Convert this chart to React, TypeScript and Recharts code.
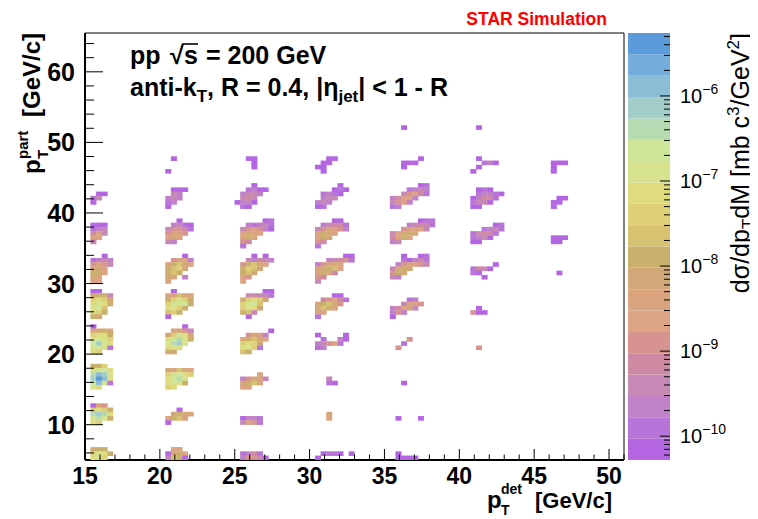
import { ScatterChart, Scatter, XAxis, YAxis, ReferenceArea, BarChart, Bar } from "recharts";

const FONT = '"Liberation Sans", Arial, Helvetica, sans-serif';

// axis ranges (GeV/c)
const X_RANGE = [15, 51];
const Y_RANGE = [5, 65.5];
const X_MAJOR = [15, 20, 25, 30, 35, 40, 45, 50];
const Y_MAJOR = [10, 20, 30, 40, 50, 60];
const X_TICKS = Array.from({ length: 37 }, (_, i) => 15 + i);
const Y_TICKS = Array.from({ length: 30 }, (_, i) => 6 + 2 * i);

// colour scale: log10(dsigma/dpT dM), 20 contour bands
const Z_MIN = -10.28;
const Z_BAND = 0.251;
const Z_MAJOR = [-10, -9, -8, -7, -6];
const PALETTE = [
  "#b365e2", "#b874d8", "#c081c8", "#c689b6", "#cd8aa2",
  "#d69390", "#dca384", "#d9a47e", "#d3a878", "#c9b06c",
  "#d6c270", "#ddd077", "#dfdc80", "#d6e28e", "#cde69a",
  "#b6dab2", "#a2cdc8", "#8cbdd6", "#74acdb", "#5b9bd9",
];

// cell size inside each (pT_det, pT_part) block
const CELL_W = 0.375;
const CELL_H = 0.6;
const LEVELS = "0123456789abcdefghij";

// blocks per pT_det bin: [pT_part bin start, rows (top row first), one char per cell = colour band]
const DET_15: [number, string[]][] = [
  [5, [".899", ".bdc9", ".cdb"]],
  [10, [".075", ".bcb9", ".fgfc", ".dfd9", ".cb"]],
  [15, [".99b", ".cdec", ".fhgd", ".gjhc", ".ehe1", ".dc"]],
  [20, [".0", ".7897", ".bcc9", ".dedb", ".egdc", ".ded1", ".cb"]],
  [25, [".00", ".8993", ".bcb8", ".cdc9", ".dea", ".cb9", ".98"]],
  [30, ["...0", ".1232", ".5753", ".786", ".996", ".87", ".66"]],
  [35, [".000", ".123", ".463", ".76", ".3", ""]],
  [40, ["..00", ".13", ".0", "", ""]],
];
const DET_20: [number, string[]][] = [
  [5, ["..66", ".0897", ".2a90"]],
  [10, ["...0", "..8987", ".79a7", ".0"]],
  [15, [".87a86", ".bdecb", ".cefd", ".cdd9", ".bc"]],
  [20, ["....0", "..7853", ".8bdc8", ".cefd9", ".dfgd", ".cdc", ".98"]],
  [25, ["..0", ".67a87", ".9bdb9", ".bede9", ".cdb9", ".ab9", ".0"]],
  [30, ["....0", "..5762", ".69a86", ".9ab8", ".9a9", ".87.2", ".7"]],
  [35, ["...0", "..2310", ".35541", ".5775", ".687", ".32", ""]],
  [40, ["..000", "..32", ".232", ".12", ".0", ""]],
  [45, ["..0", "", "", ".0", ""]],
];
const DET_25: [number, string[]][] = [
  [5, [".1241", ".25530"]],
  [10, [".0221", ".3651"]],
  [15, ["....7", ".25873", ".79a7", ".76"]],
  [20, ["......0", "..5762", ".79a86", ".bcb8", ".cdb1", ".a9"]],
  [25, [".....00", "..34331", ".8bcb8", ".bdea", ".bdc8", ".9a3", "..0"]],
  [30, ["...0.0", "..32432", ".59a86", ".9ba8", ".9a8", ".65", ".7"]],
  [35, [".....01", "..21231", ".356520", ".7876", ".797", ".54", ".1"]],
  [40, ["...0", "..1200", ".2332", ".343", "0230", ".10", ""]],
  [45, ["..00", "...0", "...0", "", ""]],
];
const DET_30: [number, string[]][] = [
  [5, ["..0110.0", ".0"]],
  [10, ["...8", "...7", ""]],
  [15, ["...3", "...10", ""]],
  [20, [".0....0", "..1..20", ".23561", ".12", ""]],
  [25, ["....00", "..45641", ".79a85", ".8a97", ".76", ".1"]],
  [30, ["......00", "...23451", ".25787", ".789a6", ".7984", ".54", ".3"]],
  [35, ["....00", "..23441", ".357652", ".6987", ".798", ".54", ".1"]],
  [40, [".....0", "....010", "..1210", "..233", ".232", ".01", ""]],
  [45, ["...00", "..00", ".00", "..0", ""]],
];
const DET_35: [number, string[]][] = [
  [5, ["..0", "..0000"]],
  [10, ["..0...0", ""]],
  [15, ["...0", ""]],
  [20, ["....5", "...1", "..5", ""]],
  [25, ["....12", "...3765", ".24683", ".252", ".0"]],
  [30, ["...0..01", "...10231", "..257653", ".3798", ".598", ".32", ""]],
  [35, ["......011", "....23431", "...57763", ".36898", ".4796", ".23", ""]],
  [40, ["......01", "....1232", "...35641", ".24672", ".3562", ".12", ""]],
  [45, ["......0", "...000", "...0", "", ""]],
  [50, ["...0", "", "", ""]],
];
const DET_40: [number, string[]][] = [
  [20, ["...5", ""]],
  [25, ["...0", "..500", ""]],
  [30, ["......0", "..1430", "..10", "....0", ""]],
  [35, ["......01", "....1231", "..13441", "..1230", "..00", ""]],
  [40, ["...010", "...12210", "..02441", "..1330", "..00", ""]],
  [45, ["...0", "....120", "...0", "..0", ""]],
  [50, ["...0", "", "", ""]],
];
const DET_45: [number, string[]][] = [
  [30, ["....0", "", ""]],
  [35, ["...000", "...00", ""]],
  [40, ["....00", "...00", "...0", ""]],
  [45, ["...000", "...0", "...0", ""]],
];
const BLOCKS: [number, [number, string[]][]][] = [
  [15, DET_15], [20, DET_20], [25, DET_25], [30, DET_30],
  [35, DET_35], [40, DET_40], [45, DET_45],
];

type CellPt = { x: number; y: number; z: number };
const cells: CellPt[] = [];
BLOCKS.forEach(([det, list]) =>
  list.forEach(([part, rows]) =>
    rows.forEach((row, i) => {
      const r = rows.length - 1 - i;
      row.split("").forEach((ch, c) => {
        const lev = LEVELS.indexOf(ch);
        if (lev < 0) return;
        cells.push({
          x: det + (c + 0.5) * CELL_W,
          y: part + (r + 0.5) * CELL_H,
          z: Z_MIN + (lev + 0.5) * Z_BAND,
        });
      });
    })
  )
);

const zColor = (z: number) =>
  PALETTE[Math.min(PALETTE.length - 1, Math.max(0, Math.floor((z - Z_MIN) / Z_BAND)))];

// layout (px)
const W = 758;
const H = 519;
const PLOT_L = 85;
const PLOT_R = 624;
const PLOT_T = 33;
const PLOT_B = 460;
const Y_AXIS_W = 60;
const X_AXIS_H = 30;
const CELL_PX_W = (CELL_W * (PLOT_R - PLOT_L)) / (X_RANGE[1] - X_RANGE[0]);
const CELL_PX_H = (CELL_H * (PLOT_B - PLOT_T)) / (Y_RANGE[1] - Y_RANGE[0]);

function CellShape(props: any) {
  const { cx, cy, payload } = props;
  return (
    <rect
      x={cx - CELL_PX_W / 2 - 0.2}
      y={cy - CELL_PX_H / 2 - 0.2}
      width={CELL_PX_W + 0.4}
      height={CELL_PX_H + 0.4}
      fill={zColor(payload.z)}
    />
  );
}

function XTick(props: any) {
  const { x, y, payload } = props;
  const major = X_MAJOR.includes(payload.value);
  return (
    <g>
      <line x1={x} x2={x} y1={y} y2={y - (major ? 11 : 5.5)} stroke="#000" />
      {major && (
        <text x={x} y={y + 24} textAnchor="middle" fontSize={23} fontWeight="bold" fontFamily={FONT} fill="#000">
          {payload.value}
        </text>
      )}
    </g>
  );
}

function YTick(props: any) {
  const { x, y, payload } = props;
  const major = Y_MAJOR.includes(payload.value);
  return (
    <g>
      <line x1={x} x2={x + (major ? 18 : 9)} y1={y} y2={y} stroke="#000" />
      {major && (
        <text x={x - 10} y={y + 9} textAnchor="end" fontSize={25} fontWeight="bold" fontFamily={FONT} fill="#000">
          {payload.value}
        </text>
      )}
    </g>
  );
}

// colour bar
const Z_SPAN = PALETTE.length * Z_BAND;
const BAR_ROW = [{ name: "z", ...Object.fromEntries(PALETTE.map((_, i) => [`b${i}`, Z_BAND])) }];
const Z_TICKS: number[] = [];
for (let d = -11; d <= -6; d++) {
  for (let k = 1; k <= 9; k++) {
    const v = d + Math.log10(k) - Z_MIN;
    if (v >= 0 && v <= Z_SPAN) Z_TICKS.push(v);
  }
}

function ZTick(props: any) {
  const { x, y, payload } = props;
  const L = payload.value + Z_MIN;
  const major = Z_MAJOR.some((m) => Math.abs(m - L) < 1e-6);
  return (
    <g>
      <line x1={x} x2={x - (major ? 10 : 6)} y1={y} y2={y} stroke="#000" />
      {major && (
        <text x={x + 10} y={y + 7} fontSize={20} fontFamily={FONT} fill="#000">
          10
          <tspan dy={-9} fontSize={14}>
            {"\u2212" + Math.round(-L)}
          </tspan>
        </text>
      )}
    </g>
  );
}

export default function App() {
  return (
    <div style={{ position: "relative", left: -8, top: -8, width: W, height: H, background: "#fff", fontFamily: FONT }}>
      <div style={{ position: "absolute", left: 0, top: 0 }}>
        <ScatterChart
          width={W}
          height={H}
          margin={{ top: PLOT_T, right: W - PLOT_R, bottom: H - PLOT_B - X_AXIS_H, left: PLOT_L - Y_AXIS_W }}
        >
          <XAxis
            type="number"
            dataKey="x"
            domain={X_RANGE}
            allowDataOverflow
            ticks={X_TICKS}
            interval={0}
            tickSize={0}
            tickMargin={0}
            tickLine={false}
            tick={<XTick />}
            height={X_AXIS_H}
            axisLine={{ stroke: "#000", strokeWidth: 2 }}
          />
          <YAxis
            type="number"
            dataKey="y"
            domain={Y_RANGE}
            allowDataOverflow
            ticks={Y_TICKS}
            interval={0}
            tickSize={0}
            tickMargin={0}
            tickLine={false}
            tick={<YTick />}
            width={Y_AXIS_W}
            axisLine={{ stroke: "#000", strokeWidth: 2 }}
          />
          <Scatter data={cells} shape={CellShape} isAnimationActive={false} />
          <ReferenceArea
            x1={X_RANGE[0]}
            x2={X_RANGE[1]}
            y1={Y_RANGE[0]}
            y2={Y_RANGE[1]}
            fill="none"
            fillOpacity={0}
            stroke="#000"
            strokeWidth={1}
            ifOverflow="visible"
          />
        </ScatterChart>
      </div>

      <div style={{ position: "absolute", left: 628, top: 0 }}>
        <BarChart
          width={130}
          height={H}
          data={BAR_ROW}
          margin={{ top: PLOT_T, right: 0, bottom: H - PLOT_B, left: 0 }}
          barCategoryGap={0}
          barGap={0}
        >
          <XAxis hide dataKey="name" type="category" />
          <YAxis
            orientation="right"
            type="number"
            domain={[0, Z_SPAN]}
            allowDataOverflow
            ticks={Z_TICKS}
            interval={0}
            tickSize={0}
            tickMargin={0}
            tickLine={false}
            axisLine={false}
            tick={<ZTick />}
            width={88}
          />
          {PALETTE.map((c, i) => (
            <Bar key={i} dataKey={`b${i}`} stackId="z" fill={c} isAnimationActive={false} />
          ))}
        </BarChart>
      </div>

      <svg width={W} height={H} style={{ position: "absolute", left: 0, top: 0, pointerEvents: "none" }} fontFamily={FONT}>
        <text x={607} y={25} textAnchor="end" fontSize={17.5} fontWeight="bold" fill="#ff0000">
          STAR Simulation
        </text>

        <g fontSize={25} fontWeight="bold" fill="#000">
          <text x={130} y={64}>pp</text>
          <text x={170} y={64}>{"\u221A"}</text>
          <text x={184} y={64}>s</text>
          <line x1={182} x2={198} y1={44} y2={44} stroke="#000" strokeWidth={1.6} />
          <text x={206} y={64}>= 200 GeV</text>
          <text x={130} y={96}>
            anti-k
            <tspan dy={6} fontSize={17}>T</tspan>
            <tspan dy={-6}>, R = 0.4, |{"\u03B7"}</tspan>
            <tspan dy={6} fontSize={17}>jet</tspan>
            <tspan dy={-6}>| &lt; 1 - R</tspan>
          </text>
        </g>

        <g fontWeight="bold" fill="#000">
          <text x={487} y={508} fontSize={24}>p</text>
          <text x={501} y={494} fontSize={14}>det</text>
          <text x={501} y={515} fontSize={14}>T</text>
          <text x={612} y={508} fontSize={22} textAnchor="end">[GeV/c]</text>
        </g>

        <g transform="translate(40,0) rotate(-90)" fontWeight="bold" fill="#000">
          <text x={-174} y={0} fontSize={24}>p</text>
          <text x={-159} y={-12} fontSize={15}>part</text>
          <text x={-159} y={8} fontSize={15}>T</text>
          <text x={-33} y={0} fontSize={24} textAnchor="end">[GeV/c]</text>
        </g>

        <g transform="translate(749,0) rotate(-90)" fill="#000">
          <text x={-33} y={0} fontSize={25} textAnchor="end">
            d{"\u03C3"}/dp
            <tspan dy={5} fontSize={17}>T</tspan>
            <tspan dy={-5}>dM [mb c</tspan>
            <tspan dy={-10} fontSize={17}>3</tspan>
            <tspan dy={10}>/GeV</tspan>
            <tspan dy={-10} fontSize={17}>2</tspan>
            <tspan dy={10}>]</tspan>
          </text>
        </g>
      </svg>
    </div>
  );
}
